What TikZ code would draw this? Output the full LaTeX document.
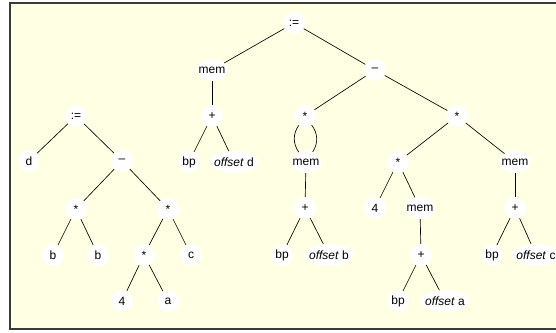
\documentclass[tikz,border=0pt]{standalone}
\usepackage{fontspec}
\setmainfont{Liberation Sans}
\usepackage{tikz}
\usetikzlibrary{shapes}
\definecolor{bg}{HTML}{FFFFE3}
\definecolor{rim}{HTML}{3A3A3A}
\tikzstyle{node} = [shape=ellipse, fill=white, inner xsep=-2.5pt, inner ysep=0pt, minimum width=22pt, minimum height=22pt, font=\fontsize{12}{14}\selectfont]
\tikzstyle{edge} = [line width=0.65pt]

\begin{document}
\begin{tikzpicture}[x=1pt, y=-1pt]
	\useasboundingbox (0,0) rectangle (556,332);
	\fill[bg] (10,3) rectangle (562,329);
	\draw[rim, line width=1.6pt] (10,3) rectangle (562,329);
	
	\node[node] (L0) at (76,116) {:=};
	\node[node] (L1) at (29,161) {d};
	\node[node] (L2) at (122,161) {\textendash};
	\node[node] (L3) at (76,209) {*};
	\node[node] (L4) at (168,209) {*};
	\node[node] (L5) at (53,255) {b};
	\node[node] (L6) at (98,255) {b};
	\node[node] (L7) at (144,255) {*};
	\node[node] (L8) at (191,255) {c};
	\node[node] (L9) at (122,301) {4};
	\node[node] (L10) at (168,301) {a};
	
	\node[node] (R0) at (294,23) {:=};
	\node[node] (R1) at (212,70) {mem};
	\node[node] (R2) at (212,116) {+};
	\node[node] (R3) at (189,162) {bp};
	\node[node] (R4) at (234,162) {\textit{offset} d};
	\node[node] (R5) at (375,70) {\textendash};
	\node[node] (R6) at (305,116) {*};
	\node[node] (R7) at (457,116) {*};
	\node[node] (R8) at (306,162) {mem};
	\node[node] (R9) at (305,208) {+};
	\node[node] (R10) at (282,255) {bp};
	\node[node] (R11) at (329,255) {\textit{offset} b};
	\node[node] (R12) at (398,162) {*};
	\node[node] (R13) at (515,162) {mem};
	\node[node] (R14) at (375,208) {4};
	\node[node] (R15) at (420,208) {mem};
	\node[node] (R16) at (421,255) {+};
	\node[node] (R17) at (398,301) {bp};
	\node[node] (R18) at (445,301) {\textit{offset} a};
	\node[node] (R19) at (515,208) {+};
	\node[node] (R20) at (492,255) {bp};
	\node[node] (R21) at (536,255) {\textit{offset} c};
	
	\foreach \a/\b in {L0/L1, L0/L2, L2/L3, L2/L4, L3/L5, L3/L6, L4/L7, L4/L8, L7/L9, L7/L10,
		R0/R1, R1/R2, R2/R3, R2/R4, R0/R5, R5/R6, R5/R7, R8/R9, R9/R10, R9/R11,
		R7/R12, R7/R13, R12/R14, R12/R15, R15/R16, R16/R17, R16/R18, R13/R19, R19/R20, R19/R21}
	{
		\draw[edge] (\a) -- (\b) ;
	}
	
	\draw[edge] (R6) to[bend left=35] (R8) ;
	\draw[edge] (R6) to[bend right=35] (R8) ;
\end{tikzpicture}
\end{document}
